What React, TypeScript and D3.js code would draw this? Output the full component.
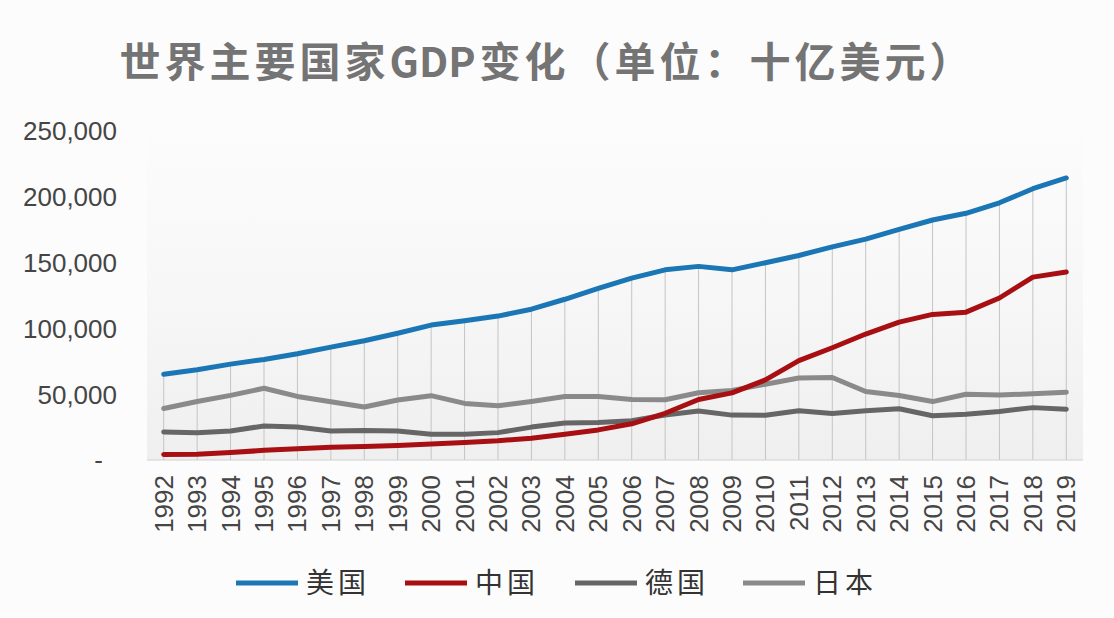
import React from "react";
import * as d3 from "d3";

const years = ["1992","1993","1994","1995","1996","1997","1998","1999","2000","2001","2002","2003","2004","2005","2006","2007","2008","2009","2010","2011","2012","2013","2014","2015","2016","2017","2018","2019"];
const usa = [65200,68590,72870,76400,80730,85780,90630,96310,102520,105820,109360,114580,122140,130370,138150,144520,147130,144490,149920,155430,161970,167850,175270,182380,187450,195430,206120,214330];
const china = [4270,4440,5640,7340,8630,9610,10290,10940,12110,13390,14710,16600,19550,22860,27520,35500,45940,51020,60870,75520,85320,95700,104760,110620,112330,123100,138950,142800];
const germany = [21300,20700,22100,25900,25000,22100,22400,22000,19500,19500,20800,25000,28100,28500,29900,34200,37300,34100,34000,37400,35400,37500,38900,33600,34700,36900,39800,38600];
const japan = [39100,44500,49100,54500,48300,44200,40300,45600,48900,43000,41200,44500,48200,48300,46000,45800,51100,52900,57600,62300,62700,52100,49000,44400,50000,49300,50400,51500];
const yTicks = [0,50000,100000,150000,200000,250000];
const seriesNames = ["美国","中国","德国","日本"];
const seriesColors = ["#1a76b4","#a80f12","#666666","#8a8a8a"];

const W = 1114, H = 618;
const plotLeft = 147, plotRight = 1083, plotTop = 120, plotBottom = 460;

export default function App() {
  const x = d3.scaleBand().domain(years).range([plotLeft, plotRight]);
  const cx = (yr: string) => (x(yr) as number) + x.bandwidth() / 2;
  const y = d3.scaleLinear().domain([0, 250000]).range([plotBottom, 131]);
  const allSeries = [usa, china, germany, japan];
  const line = d3.line<number>().x((_, i) => cx(years[i])).y(v => y(v));
  const drawOrder = [3, 2, 1, 0];
  const fmt = d3.format(",");
  const legendX = [236, 405, 575, 743];
  return (
    <svg width={W} height={H} style={{ position: "absolute", left: 0, top: 0, background: "#fcfcfc" }}>
      <defs>
        <linearGradient id="bg" x1="0" y1="0" x2="0" y2="1">
          <stop offset="0" stopColor="#fcfcfc" />
          <stop offset="0.5" stopColor="#f7f7f7" />
          <stop offset="1" stopColor="#efefef" />
        </linearGradient>
      </defs>
      <rect width={W} height={H} fill="#fcfcfc" />
      <text x={547} y={77} textAnchor="middle" fontFamily="'Noto Sans CJK SC', 'Liberation Sans', sans-serif" fontWeight={700} fontSize={41} fill="#747474">
        <tspan letterSpacing={4}>世界主要国家</tspan>
        <tspan letterSpacing={0}>GDP</tspan>
        <tspan dx={4} letterSpacing={4}>变化（单位：十亿美元）</tspan>
      </text>
      <rect x={plotLeft} y={plotTop} width={plotRight - plotLeft} height={plotBottom - plotTop} fill="url(#bg)" />
      {years.map((yr, i) => {
        const mx = Math.max(usa[i], china[i], germany[i], japan[i]);
        return <line key={yr} x1={cx(yr)} x2={cx(yr)} y1={y(mx)} y2={plotBottom} stroke="#c4c4c4" strokeWidth={1} />;
      })}
      <line x1={plotLeft} x2={plotRight} y1={plotBottom} y2={plotBottom} stroke="#d0d0d0" strokeWidth={1} />
      {yTicks.map(t => (
        <text key={t} x={t === 0 ? 103 : 117} y={y(t)} dy="0.36em" textAnchor="end" fontFamily="'Liberation Sans', Arial, sans-serif" fontSize={26} fill="#454545">{t === 0 ? "-" : fmt(t)}</text>
      ))}
      {years.map(yr => (
        <text key={yr} transform={`translate(${cx(yr)},475) rotate(-90)`} textAnchor="end" dominantBaseline="central" fontFamily="'Liberation Sans', Arial, sans-serif" fontSize={26} fill="#454545">{yr}</text>
      ))}
      {drawOrder.map(k => (
        <path key={k} d={line(allSeries[k]) as string} fill="none" stroke={seriesColors[k]} strokeWidth={5} strokeLinejoin="round" strokeLinecap="round" />
      ))}
      {seriesNames.map((n, k) => (
        <g key={n}>
          <line x1={legendX[k]} x2={legendX[k] + 62} y1={583} y2={583} stroke={seriesColors[k]} strokeWidth={5} />
          <text x={legendX[k] + 70} y={583} dy="0.36em" fontFamily="'Noto Sans CJK SC', sans-serif" fontSize={28} letterSpacing={4} fill="#333">{n}</text>
        </g>
      ))}
    </svg>
  );
}
